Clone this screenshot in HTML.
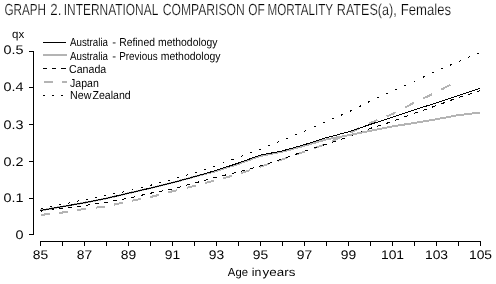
<!DOCTYPE html>
<html><head><meta charset="utf-8"><style>
html,body{margin:0;padding:0;background:#fff;width:496px;height:284px;overflow:hidden}
svg{display:block;will-change:transform}
text{font-family:"Liberation Sans",sans-serif;fill:#000;text-rendering:geometricPrecision}
</style></head><body>
<svg width="496" height="284" viewBox="0 0 496 284">
<path d="M33.5,51 V234.5 M29,234.5 H34 M29,198.5 H33 M29,161.5 H33 M29,124.5 H33 M29,87.5 H33 M29,51.5 H33" stroke="#000" stroke-width="1" fill="none"/><path d="M40,241.5 H480.5 M40.5,241 V246 M62.5,241 V246 M84.5,241 V246 M106.5,241 V246 M128.5,241 V246 M150.5,241 V246 M172.5,241 V246 M194.5,241 V246 M216.5,241 V246 M238.5,241 V246 M260.5,241 V246 M282.5,241 V246 M304.5,241 V246 M326.5,241 V246 M348.5,241 V246 M370.5,241 V246 M392.5,241 V246 M414.5,241 V246 M436.5,241 V246 M458.5,241 V246 M480.5,241 V246" stroke="#000" stroke-width="1" fill="none"/>

<path d="M41.00,214.89 L50.00,213.91 M59.20,212.91 L62.00,212.60 L68.20,211.59 M77.40,210.08 L84.00,209.00 L86.40,208.72 M95.60,207.63 L104.60,206.57 M113.80,204.66 L122.80,202.66 M132.00,200.72 L141.00,198.96 M150.20,197.15 L159.20,194.77 M168.40,192.35 L172.00,191.40 L177.40,190.10 M186.60,187.88 L194.00,186.10 L195.60,185.67 M204.80,183.20 L213.80,180.79 M223.00,178.29 L232.00,175.84 M241.20,173.12 L250.20,170.10 M259.40,167.00 L260.00,166.80 L268.40,164.01 M277.60,160.96 L282.00,159.50 L286.60,157.89 M295.80,154.67 L304.00,151.80 L304.80,151.52 M314.00,148.25 L323.00,145.06 M332.20,141.10 L341.20,136.88 M350.40,132.53 L359.40,128.16 M368.60,123.68 L370.00,123.00 L377.60,119.96 M386.80,116.28 L392.00,114.20 L395.80,112.23 M405.00,107.46 L414.00,102.80 M423.20,98.45 L432.20,94.20 M441.40,89.53 L450.40,84.74" fill="none" stroke="#b4b4b4" stroke-width="2" shape-rendering="crispEdges" />
<path d="M40.50,211.14 L44.50,210.67 M49.60,210.07 L53.60,209.59 M58.70,208.99 L62.00,208.60 L62.70,208.50 M67.80,207.81 L71.80,207.26 M76.90,206.57 L80.90,206.02 M86.00,205.30 L90.00,204.70 M95.10,203.94 L99.10,203.34 M104.20,202.57 L106.00,202.30 L108.20,201.90 M113.30,200.97 L117.30,200.25 M122.40,199.32 L126.40,198.59 M131.50,197.50 L135.50,196.60 M140.60,195.44 L144.60,194.53 M149.70,193.37 L150.00,193.30 L153.70,192.61 M158.80,191.66 L162.80,190.91 M167.90,189.96 L171.90,189.22 M177.00,187.84 L181.00,186.75 M186.10,185.35 L190.10,184.26 M195.20,182.88 L199.20,181.81 M204.30,180.44 L208.30,179.37 M213.40,178.00 L216.00,177.30 L217.40,176.96 M222.50,175.73 L226.50,174.77 M231.60,173.54 L235.60,172.58 M240.70,171.26 L244.70,170.17 M249.80,168.78 L253.80,167.69 M258.90,166.30 L260.00,166.00 L262.90,165.10 M268.00,163.53 L272.00,162.29 M277.10,160.71 L281.10,159.48 M286.20,157.69 L290.20,156.26 M295.30,154.42 L299.30,152.99 M304.40,151.17 L308.40,149.88 M313.50,148.23 L317.50,146.94 M322.60,145.30 L326.00,144.20 L326.60,144.00 M331.70,142.31 L335.70,140.98 M340.80,139.29 L344.80,137.96 M349.90,136.17 L353.90,134.65 M359.00,132.70 L363.00,131.17 M368.10,129.23 L370.00,128.50 L372.10,127.84 M377.20,126.24 L381.20,124.99 M386.30,123.39 L390.30,122.13 M395.40,120.35 L399.40,118.88 M404.50,117.00 L408.50,115.52 M413.60,113.65 L414.00,113.50 L417.60,112.24 M422.70,110.45 L426.70,109.05 M431.80,107.27 L435.80,105.87 M440.90,103.97 L444.90,102.48 M450.00,100.58 L454.00,99.09 M459.10,97.26 L463.10,96.02 M468.20,94.45 L472.20,93.21 M477.30,91.63 L480.00,90.80" fill="none" stroke="#000" stroke-width="1" shape-rendering="crispEdges" />
<path d="M40.50,208.41 L42.50,208.03 M49.60,206.71 L51.60,206.34 M58.70,205.02 L60.70,204.64 M67.80,203.19 L69.80,202.77 M76.90,201.28 L78.90,200.87 M86.00,199.38 L88.00,198.96 M95.10,197.48 L97.10,197.06 M104.20,195.58 L106.00,195.20 L106.20,195.16 M113.30,193.81 L115.30,193.42 M122.40,192.07 L124.40,191.69 M131.50,190.11 L133.50,189.60 M140.60,187.79 L142.60,187.28 M149.70,185.48 L150.00,185.40 L151.70,184.95 M158.80,183.08 L160.80,182.55 M167.90,180.68 L169.90,180.15 M177.00,178.10 L179.00,177.50 M186.10,175.37 L188.10,174.77 M195.20,172.61 L197.20,171.95 M204.30,169.63 L206.30,168.97 M213.40,166.65 L215.40,166.00 M222.50,163.29 L224.50,162.52 M231.60,159.77 L233.60,159.00 M240.70,156.34 L242.70,155.63 M249.80,153.12 L251.80,152.41 M258.90,149.89 L260.00,149.50 L260.90,149.12 M268.00,146.15 L270.00,145.32 M277.10,142.35 L279.10,141.51 M286.20,138.62 L288.20,137.82 M295.30,134.98 L297.30,134.18 M304.40,131.32 L306.40,130.42 M313.50,127.22 L315.50,126.32 M322.60,123.13 L324.60,122.23 M331.70,119.19 L333.70,118.34 M340.80,115.34 L342.80,114.50 M349.90,111.35 L351.90,110.35 M359.00,106.80 L361.00,105.80 M368.10,102.25 L370.00,101.30 L370.10,101.25 M377.20,98.06 L379.20,97.16 M386.30,93.96 L388.30,93.06 M395.40,89.87 L397.40,88.97 M404.50,85.77 L406.50,84.87 M413.60,81.68 L414.00,81.50 L415.60,80.75 M422.70,77.43 L424.70,76.49 M431.80,73.17 L433.80,72.23 M440.90,69.11 L442.90,68.25 M450.00,65.22 L452.00,64.36 M459.10,61.33 L461.10,60.49 M468.20,57.49 L470.20,56.64 M477.30,53.64 L479.30,52.80" fill="none" stroke="#000" stroke-width="1" shape-rendering="crispEdges" />
<polyline points="40,210.50 62,206.70 84,202.80 106,198.50 128,193.30 150,188.20 172,182.80 194,176.80 216,171.20 238,164.00 260,156.00 282,151.80 304,145.80 326,139.50 348,135.30 370,131.00 392,126.50 414,123.00 436,119.30 458,115.20 480,112.50" fill="none" stroke="#b4b4b4" stroke-width="2" shape-rendering="crispEdges" />
<polyline points="40,210.50 62,206.70 84,202.80 106,198.50 128,193.30 150,188.20 172,182.80 194,176.80 216,170.40 238,163.20 260,155.20 282,151.00 304,144.80 326,137.80 348,132.00 370,124.50 392,117.30 414,110.00 436,103.00 458,95.80 480,88.30" fill="none" stroke="#000" stroke-width="1" shape-rendering="crispEdges" />

<path d="M43,42.5 H66" stroke="#000" stroke-width="1"/><path d="M43,55 H67" stroke="#b4b4b4" stroke-width="2"/><path d="M43,68.5 H47 M52,68.5 H56 M61,68.5 H66" stroke="#000" stroke-width="1"/><path d="M44,82 H53 M62,82 H67" stroke="#b4b4b4" stroke-width="2"/><path d="M43,95.5 H45 M52,95.5 H54 M61,95.5 H63" stroke="#000" stroke-width="1"/>
<g opacity="0.99"><text x="70.0" y="46" font-size="11.5" textLength="38.0" lengthAdjust="spacingAndGlyphs" font-family="Liberation Sans, sans-serif">Australia</text><text x="112.29" y="46" font-size="11.5" textLength="3.82" lengthAdjust="spacingAndGlyphs" font-family="Liberation Sans, sans-serif">-</text><text x="119.19" y="46" font-size="11.5" textLength="35.73" lengthAdjust="spacingAndGlyphs" font-family="Liberation Sans, sans-serif">Refined</text><text x="158.01" y="46" font-size="11.5" textLength="59.49" lengthAdjust="spacingAndGlyphs" font-family="Liberation Sans, sans-serif">methodology</text><text x="70.0" y="60" font-size="11.5" textLength="38.0" lengthAdjust="spacingAndGlyphs" font-family="Liberation Sans, sans-serif">Australia</text><text x="112.29" y="60" font-size="11.5" textLength="3.82" lengthAdjust="spacingAndGlyphs" font-family="Liberation Sans, sans-serif">-</text><text x="119.13" y="60" font-size="11.5" textLength="38.53" lengthAdjust="spacingAndGlyphs" font-family="Liberation Sans, sans-serif">Previous</text><text x="160.7" y="60" font-size="11.5" textLength="59.8" lengthAdjust="spacingAndGlyphs" font-family="Liberation Sans, sans-serif">methodology</text><text x="69.0" y="73" font-size="11.5" textLength="37.2" lengthAdjust="spacingAndGlyphs" font-family="Liberation Sans, sans-serif">Canada</text><text x="70.01" y="87" font-size="11.5" textLength="28.77" lengthAdjust="spacingAndGlyphs" font-family="Liberation Sans, sans-serif">Japan</text><text x="70.05" y="99" font-size="11.5" textLength="21.35" lengthAdjust="spacingAndGlyphs" font-family="Liberation Sans, sans-serif">New</text><text x="92.55" y="99" font-size="11.5" textLength="38.16" lengthAdjust="spacingAndGlyphs" font-family="Liberation Sans, sans-serif">Zealand</text><text x="227.87" y="276" font-size="11.5" textLength="20.07" lengthAdjust="spacingAndGlyphs" font-family="Liberation Sans, sans-serif">Age</text><text x="251.67" y="276" font-size="11.5" textLength="9.6" lengthAdjust="spacingAndGlyphs" font-family="Liberation Sans, sans-serif">in</text><text x="262.58" y="276" font-size="11.5" textLength="32.76" lengthAdjust="spacingAndGlyphs" font-family="Liberation Sans, sans-serif">years</text><text x="4.38" y="15" font-size="16" stroke="#fff" stroke-width="0.25" textLength="41.67" lengthAdjust="spacingAndGlyphs" font-family="Liberation Sans, sans-serif">GRAPH</text><text x="50.22" y="15" font-size="16" stroke="#fff" stroke-width="0.25" textLength="11.11" lengthAdjust="spacingAndGlyphs" font-family="Liberation Sans, sans-serif">2.</text><text x="63.75" y="15" font-size="16" stroke="#fff" stroke-width="0.25" textLength="94.52" lengthAdjust="spacingAndGlyphs" font-family="Liberation Sans, sans-serif">INTERNATIONAL</text><text x="162.78" y="15" font-size="16" stroke="#fff" stroke-width="0.25" textLength="81.94" lengthAdjust="spacingAndGlyphs" font-family="Liberation Sans, sans-serif">COMPARISON</text><text x="248.24" y="15" font-size="16" stroke="#fff" stroke-width="0.25" textLength="16.54" lengthAdjust="spacingAndGlyphs" font-family="Liberation Sans, sans-serif">OF</text><text x="267.62" y="15" font-size="16" stroke="#fff" stroke-width="0.25" textLength="65.51" lengthAdjust="spacingAndGlyphs" font-family="Liberation Sans, sans-serif">MORTALITY</text><text x="336.8" y="15" font-size="16" stroke="#fff" stroke-width="0.25" textLength="59.9" lengthAdjust="spacingAndGlyphs" font-family="Liberation Sans, sans-serif">RATES(a),</text><text x="400.74" y="15" font-size="16" stroke="#fff" stroke-width="0.25" textLength="50.36" lengthAdjust="spacingAndGlyphs" font-family="Liberation Sans, sans-serif">Females</text><text x="15.5" y="239" font-size="12.5" textLength="8" lengthAdjust="spacingAndGlyphs" font-family="Liberation Sans, sans-serif">0</text><text x="3.5" y="202" font-size="12.5" textLength="20" lengthAdjust="spacingAndGlyphs" font-family="Liberation Sans, sans-serif">0.1</text><text x="3.5" y="166" font-size="12.5" textLength="20" lengthAdjust="spacingAndGlyphs" font-family="Liberation Sans, sans-serif">0.2</text><text x="3.5" y="129" font-size="12.5" textLength="20" lengthAdjust="spacingAndGlyphs" font-family="Liberation Sans, sans-serif">0.3</text><text x="3.5" y="91" font-size="12.5" textLength="20" lengthAdjust="spacingAndGlyphs" font-family="Liberation Sans, sans-serif">0.4</text><text x="3.5" y="54" font-size="12.5" textLength="20" lengthAdjust="spacingAndGlyphs" font-family="Liberation Sans, sans-serif">0.5</text><text x="12" y="38" font-size="11.5" font-family="Liberation Sans, sans-serif">qx</text><text x="32.8" y="259" font-size="12.5" textLength="15.4" lengthAdjust="spacingAndGlyphs" font-family="Liberation Sans, sans-serif">85</text><text x="76.8" y="259" font-size="12.5" textLength="15.4" lengthAdjust="spacingAndGlyphs" font-family="Liberation Sans, sans-serif">87</text><text x="120.8" y="259" font-size="12.5" textLength="15.4" lengthAdjust="spacingAndGlyphs" font-family="Liberation Sans, sans-serif">89</text><text x="164.8" y="259" font-size="12.5" textLength="15.4" lengthAdjust="spacingAndGlyphs" font-family="Liberation Sans, sans-serif">91</text><text x="208.8" y="259" font-size="12.5" textLength="15.4" lengthAdjust="spacingAndGlyphs" font-family="Liberation Sans, sans-serif">93</text><text x="252.8" y="259" font-size="12.5" textLength="15.4" lengthAdjust="spacingAndGlyphs" font-family="Liberation Sans, sans-serif">95</text><text x="296.8" y="259" font-size="12.5" textLength="15.4" lengthAdjust="spacingAndGlyphs" font-family="Liberation Sans, sans-serif">97</text><text x="340.8" y="259" font-size="12.5" textLength="15.4" lengthAdjust="spacingAndGlyphs" font-family="Liberation Sans, sans-serif">99</text><text x="380.95" y="259" font-size="12.5" textLength="23.1" lengthAdjust="spacingAndGlyphs" font-family="Liberation Sans, sans-serif">101</text><text x="424.95" y="259" font-size="12.5" textLength="23.1" lengthAdjust="spacingAndGlyphs" font-family="Liberation Sans, sans-serif">103</text><text x="468.95" y="259" font-size="12.5" textLength="23.1" lengthAdjust="spacingAndGlyphs" font-family="Liberation Sans, sans-serif">105</text></g>
</svg>
</body></html>
